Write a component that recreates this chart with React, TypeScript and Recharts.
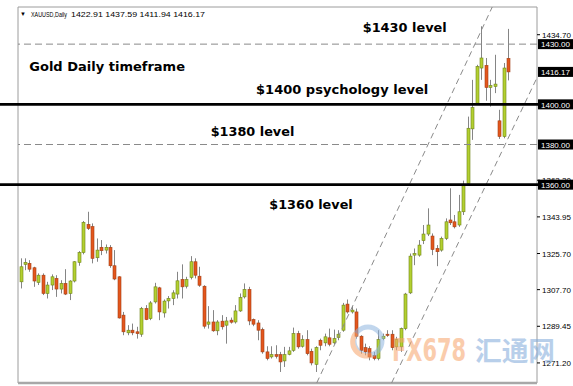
import {
  Bar,
  ComposedChart,
  ReferenceArea,
  ReferenceLine,
  XAxis,
  YAxis,
} from "recharts";

// XAUUSD daily candles, oldest first
const opens = [
  1311.6, 1320.3, 1320.8, 1318.6, 1311.3, 1314.9, 1305.8, 1310.0, 1313.3, 1308.0,
  1310.8, 1305.8, 1312.0, 1321.3, 1326.2, 1340.2, 1339.1, 1323.6, 1328.8, 1327.4,
  1328.8, 1319.6, 1314.1, 1295.0, 1286.2, 1287.5, 1286.7, 1285.5, 1298.3, 1293.3,
  1301.6, 1308.6, 1296.1, 1302.1, 1303.3, 1305.5, 1312.8, 1309.4, 1313.8, 1321.6,
  1314.4, 1309.4, 1290.5, 1291.6, 1287.2, 1292.0, 1290.0, 1292.5, 1291.6, 1297.1,
  1304.1, 1307.8, 1292.8, 1291.1, 1287.8, 1276.7, 1274.2, 1275.3, 1275.3, 1272.2,
  1275.5, 1277.5, 1285.8, 1279.5, 1282.8, 1277.0, 1270.5, 1282.5, 1281.2, 1283.7,
  1281.2, 1283.8, 1287.5, 1300.5, 1296.6, 1296.6, 1284.5, 1278.8, 1278.3, 1275.0,
  1273.4, 1283.3, 1285.5, 1285.5, 1279.2, 1279.2, 1288.3, 1306.1, 1324.9, 1324.9,
  1332.1, 1335.4, 1334.4, 1328.2, 1327.4, 1333.2, 1342.4, 1341.5, 1339.9, 1346.5,
  1360.5, 1387.8, 1400.6, 1418.1, 1419.4, 1408.4, 1408.9, 1391.8, 1384.0, 1422.91,
];
const highs = [
  1323.3, 1323.3, 1322.4, 1319.1, 1315.8, 1315.8, 1311.6, 1315.3, 1314.9, 1312.4,
  1317.9, 1312.4, 1321.9, 1326.9, 1341.9, 1346.5, 1340.7, 1333.2, 1332.4, 1330.2,
  1329.9, 1327.4, 1314.4, 1296.6, 1290.0, 1290.8, 1289.2, 1299.1, 1300.0, 1302.0,
  1311.1, 1309.1, 1302.8, 1304.5, 1307.4, 1316.6, 1320.3, 1314.1, 1324.4, 1323.3,
  1319.1, 1309.9, 1299.5, 1297.5, 1292.5, 1295.0, 1294.1, 1293.8, 1300.0, 1305.8,
  1310.8, 1309.1, 1293.3, 1292.5, 1288.8, 1279.5, 1279.5, 1280.0, 1276.7, 1279.2,
  1279.2, 1288.8, 1287.2, 1285.0, 1287.5, 1278.3, 1279.5, 1283.3, 1285.8, 1288.3,
  1287.8, 1287.5, 1301.1, 1302.8, 1299.5, 1298.3, 1285.0, 1280.8, 1279.5, 1276.7,
  1287.5, 1285.8, 1287.5, 1287.5, 1284.2, 1288.8, 1306.1, 1325.7, 1328.2, 1332.4,
  1339.9, 1348.2, 1335.7, 1329.9, 1334.1, 1343.2, 1358.2, 1344.9, 1354.9, 1362.0,
  1393.9, 1412.2, 1419.7, 1438.9, 1423.1, 1412.2, 1424.7, 1397.3, 1420.6, 1437.59,
];
const lows = [
  1308.3, 1317.4, 1316.6, 1309.1, 1310.0, 1305.0, 1303.3, 1307.5, 1304.1, 1305.8,
  1305.0, 1302.5, 1311.3, 1319.6, 1325.3, 1337.4, 1320.8, 1321.6, 1324.9, 1325.7,
  1318.6, 1312.4, 1293.3, 1285.0, 1285.0, 1285.0, 1283.3, 1284.2, 1292.5, 1292.5,
  1300.8, 1292.5, 1293.8, 1298.3, 1300.0, 1303.3, 1303.3, 1308.3, 1312.8, 1313.3,
  1309.1, 1288.3, 1288.3, 1286.7, 1285.0, 1287.8, 1280.8, 1290.8, 1290.8, 1296.6,
  1303.3, 1290.0, 1289.5, 1282.5, 1275.8, 1272.5, 1273.4, 1273.4, 1266.7, 1269.2,
  1275.0, 1276.7, 1278.3, 1278.8, 1275.0, 1270.0, 1266.7, 1277.5, 1279.5, 1279.5,
  1280.5, 1282.5, 1286.7, 1295.8, 1295.8, 1283.3, 1275.8, 1275.0, 1272.5, 1272.5,
  1272.5, 1282.5, 1284.2, 1277.5, 1277.5, 1276.7, 1287.5, 1305.5, 1319.9, 1324.1,
  1330.4, 1334.4, 1324.9, 1319.4, 1326.6, 1332.4, 1339.9, 1338.2, 1339.0, 1344.9,
  1359.5, 1382.3, 1400.1, 1412.2, 1401.8, 1398.9, 1405.6, 1382.8, 1383.1, 1411.94,
];
const closes = [
  1319.1, 1321.3, 1317.9, 1312.0, 1314.9, 1305.8, 1310.0, 1314.1, 1308.0, 1310.8,
  1305.5, 1312.0, 1321.6, 1326.2, 1341.2, 1338.2, 1323.3, 1327.4, 1327.1, 1328.8,
  1319.6, 1313.0, 1293.6, 1286.7, 1287.5, 1286.2, 1285.8, 1298.3, 1292.8, 1301.1,
  1309.1, 1296.6, 1302.0, 1303.3, 1306.1, 1312.1, 1309.1, 1312.8, 1321.6, 1314.9,
  1309.9, 1289.5, 1291.6, 1287.2, 1291.6, 1289.2, 1292.1, 1291.5, 1297.1, 1303.8,
  1307.8, 1292.1, 1290.5, 1287.5, 1276.7, 1273.4, 1275.3, 1274.5, 1271.7, 1275.3,
  1277.2, 1285.8, 1279.2, 1282.8, 1275.8, 1271.2, 1278.8, 1280.0, 1284.2, 1280.5,
  1283.3, 1285.5, 1300.0, 1296.6, 1297.5, 1284.5, 1277.5, 1276.7, 1274.2, 1273.4,
  1282.8, 1284.5, 1285.0, 1278.8, 1282.8, 1288.3, 1305.5, 1324.4, 1325.7, 1329.9,
  1335.4, 1339.9, 1327.7, 1326.6, 1333.2, 1341.5, 1341.0, 1339.0, 1346.5, 1359.8,
  1388.1, 1398.4, 1418.9, 1423.1, 1408.4, 1409.4, 1410.1, 1384.0, 1418.1, 1416.17,
];

const priceTicks = [
  1434.7, 1430, 1416.17, 1400, 1380, 1362.2, 1360, 1343.95, 1325.7, 1307.7, 1289.45, 1271.2,
];
const boxedTicks = [1430, 1416.17, 1400, 1380, 1360];

const keyLevels = [1400, 1360];
const minorLevels = [1430, 1380];

// channel lines: [bar index, price] pairs
const channelUpper = [
  { x: 67.26, y: 1261.2 },
  { x: 106.5, y: 1448.5 },
];
const channelLower = [
  { x: 84.0, y: 1261.2 },
  { x: 116.5, y: 1413.3 },
];

const X_DOMAIN: [number, number] = [0.5, 116.5];
const Y_DOMAIN: [number, number] = [1261.2, 1448.5];

const data = opens.map((o, idx) => ({
  i: idx + 1,
  o,
  h: highs[idx],
  l: lows[idx],
  c: closes[idx],
  range: [lows[idx], highs[idx]],
}));

function Candle(props: any) {
  const { x, y, width, height, payload } = props;
  if (!payload) return null;
  const { o, h, l, c } = payload;
  const top = Math.min(y, y + height);
  const span = Math.abs(height);
  const per = h - l > 0 ? span / (h - l) : 0;
  const yOf = (v: number) => top + (h - v) * per;
  const cx = Math.round(x + width / 2) + 0.5;
  const up = c >= o;
  const bTop = yOf(Math.max(o, c));
  const bBot = yOf(Math.min(o, c));
  return (
    <g>
      <line x1={cx} x2={cx} y1={top} y2={top + span} stroke="#858585" strokeWidth={1} />
      <rect
        x={cx - 1.5}
        y={bTop}
        width={3}
        height={Math.max(1.2, bBot - bTop)}
        fill={up ? "#b3d030" : "#e4561c"}
        stroke={up ? "#6f8318" : "#a23f14"}
        strokeWidth={0.6}
      />
    </g>
  );
}

function PriceTick(props: any) {
  const { x, y, payload } = props;
  const v = payload.value as number;
  const label = v.toFixed(2);
  if (boxedTicks.includes(v)) {
    return (
      <g>
        <rect x={x + 1} y={y - 5} width={36} height={10} fill="#000" />
        <text x={x + 4} y={y + 3.2} fontSize={8} fill="#fff" fontFamily="Liberation Sans, Arial">
          {label}
        </text>
      </g>
    );
  }
  return (
    <g>
      <line x1={x} x2={x + 3} y1={y} y2={y} stroke="#000" />
      <text x={x + 5} y={y + 3.2} fontSize={8} fill="#000" fontFamily="Liberation Sans, Arial">
        {label}
      </text>
    </g>
  );
}

const boldText = {
  fontFamily: "DejaVu Sans, Verdana, sans-serif",
  fontWeight: 700,
  fontSize: 13,
  fill: "#000",
  lengthAdjust: "spacingAndGlyphs" as const,
};

// thick key level, running from the page's left edge to the price scale
function KeyLevelLine(p: any) {
  const right = Math.max(p.x1, p.x2) + 1;
  return <line x1={0} y1={p.y1} x2={right} y2={p.y2} stroke="#000" strokeWidth={2.6} />;
}

export default function App() {
  return (
    <div style={{ position: "absolute", left: 0, top: 0, width: 573, height: 386, background: "#fff" }}>
      <ComposedChart
        width={573}
        height={386}
        data={data}
        margin={{ top: 7, right: 0, bottom: 3, left: 18 }}
      >
        <XAxis dataKey="i" type="number" domain={X_DOMAIN} allowDataOverflow hide />
        <YAxis
          orientation="right"
          width={36}
          domain={Y_DOMAIN}
          allowDataOverflow
          ticks={priceTicks}
          interval={0}
          tick={<PriceTick />}
          tickLine={false}
          axisLine={false}
          tickSize={0}
          tickMargin={0}
        />
        <ReferenceArea
          x1={X_DOMAIN[0]}
          x2={X_DOMAIN[1]}
          y1={Y_DOMAIN[0]}
          y2={Y_DOMAIN[1]}
          fill="none"
          stroke="#9c9c9c"
          ifOverflow="visible"
        />
        <ReferenceLine y={Y_DOMAIN[0]} stroke="#a8a8a8" strokeWidth={2.5} ifOverflow="visible" />
        {minorLevels.map((lv) => (
          <ReferenceLine key={lv} y={lv} stroke="#8a8a8a" strokeDasharray="7 4" />
        ))}
        <ReferenceLine
          segment={channelUpper}
          stroke="#8a8a8a"
          strokeDasharray="6 4"
          ifOverflow="hidden"
        />
        <ReferenceLine
          segment={channelLower}
          stroke="#8a8a8a"
          strokeDasharray="6 4"
          ifOverflow="hidden"
        />
        <Bar dataKey="range" barSize={3} shape={<Candle />} isAnimationActive={false} />
        {keyLevels.map((lv) => (
          <ReferenceLine key={lv} y={lv} shape={KeyLevelLine} />
        ))}
      </ComposedChart>
      <svg
        width={573}
        height={386}
        style={{ position: "absolute", left: 0, top: 0, pointerEvents: "none" }}
      >
        <text x={20} y={16} fontSize={6} fill="#000">▼</text>
        <text x={31} y={17} fontSize={8} fontFamily="Liberation Sans, Arial" textLength={36} lengthAdjust="spacingAndGlyphs">
          XAUUSD,Daily
        </text>
        <text x={71} y={17} fontSize={8} fontFamily="Liberation Sans, Arial" textLength={134} lengthAdjust="spacingAndGlyphs">
          1422.91 1437.59 1411.94 1416.17
        </text>
        <text x={362.7} y={31.5} textLength={84} {...boldText}>$1430 level</text>
        <text x={29.3} y={71.4} textLength={155.7} {...boldText}>Gold Daily timeframe</text>
        <text x={256} y={93.7} textLength={172.3} {...boldText}>$1400 psychology level</text>
        <text x={210.7} y={135.7} textLength={83.6} {...boldText}>$1380 level</text>
        <text x={269.3} y={209} textLength={83.4} {...boldText}>$1360 level</text>
        <g opacity={0.55}>
          <circle cx={368} cy={341} r={14} fill="none" stroke="#8fb6e0" strokeWidth={5} />
          <path d="M 356 333 A 14 14 0 0 0 372 355" fill="none" stroke="#f7a46a" strokeWidth={5} />
          <text
            x={392}
            y={361}
            fontSize={32}
            fontWeight={700}
            fontFamily="DejaVu Sans, sans-serif"
            fill="#f7a46a"
            textLength={74}
            lengthAdjust="spacingAndGlyphs"
          >
            FX678
          </text>
          <text
            x={475}
            y={361}
            fontSize={27}
            fontWeight={700}
            fontFamily="Noto Sans CJK SC, sans-serif"
            fill="#7fa9da"
            textLength={80}
            lengthAdjust="spacingAndGlyphs"
          >
            汇通网
          </text>
        </g>
      </svg>
    </div>
  );
}
